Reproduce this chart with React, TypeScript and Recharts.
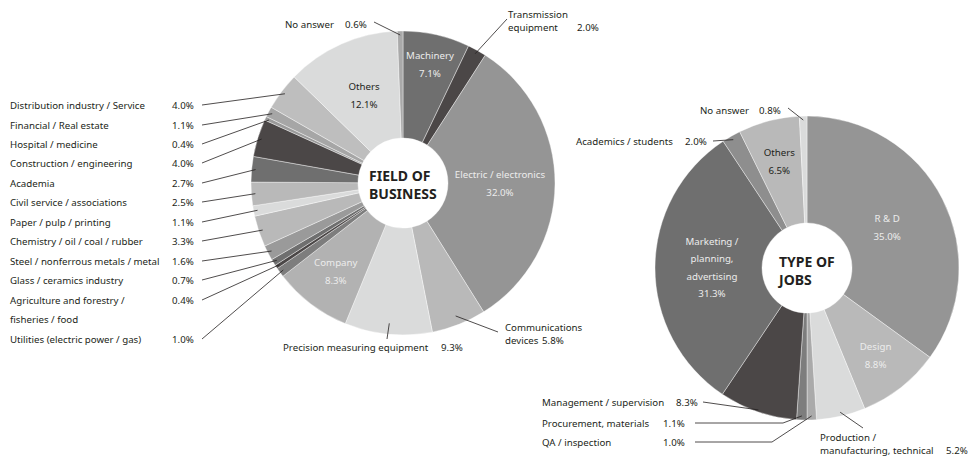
import { PieChart, Pie, Cell } from 'recharts'

// field of business, clockwise from 12 o'clock ("\n" = line break in label)
const businessFields = [
  'Machinery', 'Transmission\nequipment', 'Electric / electronics', 'Communications\ndevices',
  'Precision measuring equipment', 'Company', 'Utilities (electric power / gas)',
  'Agriculture and forestry /\nfisheries / food', 'Glass / ceramics industry',
  'Steel / nonferrous metals / metal', 'Chemistry / oil / coal / rubber', 'Paper / pulp / printing',
  'Civil service / associations', 'Academia', 'Construction / engineering', 'Hospital / medicine',
  'Financial / Real estate', 'Distribution industry / Service', 'Others', 'No answer',
]
const businessShares = [7.1, 2.0, 32.0, 5.8, 9.3, 8.3, 1.0, 0.4, 0.7, 1.6, 3.3, 1.1, 2.5, 2.7, 4.0, 0.4, 1.1, 4.0, 12.1, 0.6]

// type of jobs, clockwise from 12 o'clock
const jobTypes = [
  'R & D', 'Design', 'Production /\nmanufacturing, technical', 'QA / inspection',
  'Procurement, materials', 'Management / supervision', 'Marketing /\nplanning,\nadvertising',
  'Academics / students', 'Others', 'No answer',
]
const jobShares = [35.0, 8.8, 5.2, 1.0, 1.1, 8.3, 31.3, 2.0, 6.5, 0.8]

const businessColors = [
  '#6f6f6f', '#4b4747', '#959595', '#b9b9b9', '#dadbdb', '#b2b2b2', '#7d7d7d', '#4b4747', '#6f6f6f',
  '#9a9a9a', '#b9b9b9', '#dadbdb', '#b9b9b9', '#6f6f6f', '#4b4747', '#9a9a9a', '#a6a6a6', '#bebebe',
  '#dadbdb', '#a9a9a9',
]
const jobColors = ['#959595', '#b9b9b9', '#dadbdb', '#aaaaaa', '#7d7d7d', '#4b4747', '#6f6f6f', '#8e8e8e', '#b9b9b9', '#dadbdb']

const INK = '#231f20'
const LIGHT = '#ececec'
const FONT = '"Noto Sans", sans-serif'
const FS = 9.7
const RAD = Math.PI / 180

type Spec =
  | { in: true; r: number; fill: string; lh?: number }
  | { in?: false; tx: number; ty: number; vx: number; lx: number; ly: number; lh?: number; vline?: number; elbow?: number; r?: number }

const left = (ty: number, extra: Partial<Spec> = {}): Spec => ({ tx: 10, ty, vx: 172, lx: 202, ly: ty, ...extra } as Spec)

const businessLabels: Spec[] = [
  { in: true, r: 122, fill: LIGHT },
  { tx: 508, ty: 14, lh: 13, vx: 577, lx: 507, ly: 19 },
  { in: true, r: 97, fill: LIGHT },
  { tx: 505, ty: 327, lh: 13, vx: 542, lx: 498, ly: 332, r: 143 },
  { tx: 283, ty: 347, vx: 441, lx: 387, ly: 339, r: 141 },
  { in: true, r: 111, fill: LIGHT },
  left(339),
  left(300, { lh: 19, vline: 0 }),
  left(280),
  left(261),
  left(241),
  left(222),
  left(202),
  left(183),
  left(163),
  left(144),
  left(125),
  left(105),
  { in: true, r: 96, fill: INK },
  { tx: 285, ty: 24, vx: 345, lx: 374, ly: 22 },
]

const jobLabels: Spec[] = [
  { in: true, r: 90, fill: LIGHT },
  { in: true, r: 111, fill: LIGHT },
  { tx: 820, ty: 437.5, lh: 12.5, vx: 946, lx: 863, ly: 428 },
  { tx: 542, ty: 442, vx: 663, lx: 695, ly: 442, elbow: 772 },
  { tx: 542, ty: 423, vx: 663, lx: 695, ly: 423, elbow: 783 },
  { tx: 542, ty: 402, vx: 676, lx: 703, ly: 402, r: 150 },
  { in: true, r: 95, fill: LIGHT, lh: 17.5 },
  { tx: 576, ty: 141, vx: 685, lx: 713, ly: 141 },
  { in: true, r: 110, fill: INK },
  { tx: 700, ty: 110, vx: 759, lx: 788, ly: 108 },
]

const toRows = (names: string[], shares: number[]) => names.map((name, i) => ({ name, value: shares[i] }))

function labelRenderer(specs: Spec[]) {
  return (props: any) => {
    const { cx, cy, midAngle, index, payload } = props
    const spec = specs[index]
    const lines: string[] = payload.name.split('\n')
    const pct = `${payload.value.toFixed(1)}%`
    const at = (r: number) => [cx + r * Math.cos(-midAngle * RAD), cy + r * Math.sin(-midAngle * RAD)]
    if (spec.in) {
      const lh = spec.lh ?? 18
      const all = [...lines, pct]
      const [x, y] = at(spec.r)
      const y0 = y - ((all.length - 1) * lh) / 2
      return (
        <g>
          {all.map((t, i) => (
            <text key={i} x={x} y={y0 + i * lh} textAnchor="middle" dominantBaseline="central" fill={spec.fill} fontSize={FS} fontFamily={FONT}>
              {t}
            </text>
          ))}
        </g>
      )
    }
    const lh = spec.lh ?? 12
    const vline = spec.vline ?? lines.length - 1
    const [ex, ey] = at(spec.r ?? 148)
    const pts = spec.elbow != null ? `${spec.lx},${spec.ly} ${spec.elbow},${spec.ly} ${ex},${ey}` : `${spec.lx},${spec.ly} ${ex},${ey}`
    return (
      <g>
        <polyline points={pts} fill="none" stroke={INK} strokeWidth={0.8} />
        {lines.map((t, i) => (
          <text key={i} x={spec.tx} y={spec.ty + i * lh} dominantBaseline="central" fill={INK} fontSize={FS} fontFamily={FONT}>
            {t}
          </text>
        ))}
        <text x={spec.vx} y={spec.ty + vline * lh} dominantBaseline="central" fill={INK} fontSize={FS} fontFamily={FONT}>
          {pct}
        </text>
      </g>
    )
  }
}

export default function App() {
  const title = { fontSize: 14, fontWeight: 700, fontFamily: FONT, fill: INK, dominantBaseline: 'central' as const }
  return (
    <div style={{ position: 'absolute', left: 0, top: 0, width: 971, height: 457, background: '#fff' }}>
      <PieChart width={971} height={457} margin={{ top: 0, right: 0, bottom: 0, left: 0 }}>
        <Pie
          data={toRows(businessFields, businessShares)}
          dataKey="value"
          nameKey="name"
          cx={403}
          cy={183}
          innerRadius={45}
          outerRadius={152}
          startAngle={90}
          endAngle={-270}
          stroke="#ffffff"
          strokeWidth={0.4}
          label={labelRenderer(businessLabels)}
          labelLine={false}
          isAnimationActive={false}
        >
          {businessShares.map((_, i) => (
            <Cell key={i} fill={businessColors[i]} />
          ))}
        </Pie>
        <Pie
          data={toRows(jobTypes, jobShares)}
          dataKey="value"
          nameKey="name"
          cx={807}
          cy={268}
          innerRadius={45}
          outerRadius={152}
          startAngle={90}
          endAngle={-270}
          stroke="#ffffff"
          strokeWidth={0.4}
          label={labelRenderer(jobLabels)}
          labelLine={false}
          isAnimationActive={false}
        >
          {jobShares.map((_, i) => (
            <Cell key={i} fill={jobColors[i]} />
          ))}
        </Pie>
      </PieChart>
      <svg width={971} height={457} style={{ position: 'absolute', left: 0, top: 0, pointerEvents: 'none' }}>
        <text x={369} y={175} {...title}>FIELD OF</text>
        <text x={369} y={193} {...title}>BUSINESS</text>
        <text x={779} y={261} {...title}>TYPE OF</text>
        <text x={779} y={279} {...title}>JOBS</text>
      </svg>
    </div>
  )
}
